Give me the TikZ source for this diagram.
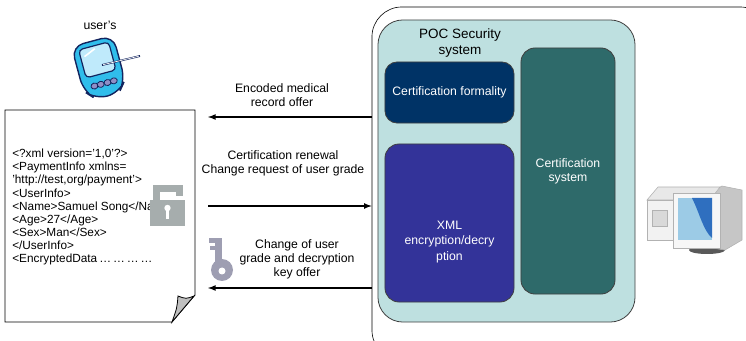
\documentclass[tikz,border=0pt]{standalone}
\usepackage{fontspec}
\setmainfont{Liberation Sans}
\usepackage{xcolor}
\usepackage{tikz}
\usetikzlibrary{shapes,arrows,calc,positioning}

\definecolor{pocCyan}{HTML}{BEE0E0}
\definecolor{formalityBlue}{HTML}{003366}
\definecolor{xmlBlue}{HTML}{333399}
\definecolor{systemTeal}{HTML}{2E6A6A}
\definecolor{lockGray}{HTML}{A6ADAD}
\definecolor{keyGray}{HTML}{9E9EB2}
\definecolor{pdaBlue}{HTML}{30BDEB}
\definecolor{pdaNavy}{HTML}{13245E}
\definecolor{screenLight}{HTML}{9CCBE6}
\definecolor{screenDark}{HTML}{2F6FBF}

\tikzstyle{tsText} = [
    text=black,
    font=\fontsize{8.7}{10}\selectfont
]
\tikzstyle{tsWraptext} = [
    tsText,
    text centered,
    align=center
]
\tikzstyle{tsWhiteText} = [
    tsWraptext,
    text=white
]
\tikzstyle{tsRoundedRectangle} = [
    rectangle,
    inner sep=0pt,
    draw=black!75,
    line width=0.2mm,
    rounded corners=0.35cm
]
\tikzstyle{tsMessage} = [
    -latex,
    line width=0.3mm
]

\begin{document}
\begin{tikzpicture}[x=0.025cm, y=-0.025cm]

        \useasboundingbox (0,0) rectangle (746,341);
        \clip (0,0) rectangle (746,341);

        % Server side: outer frame and POC security system
        \node[tsRoundedRectangle, draw=black, line width=0.15mm,
        rounded corners=0.75cm,
        minimum width=9.95cm,
        minimum height=8.825cm] (server) at (571,183.5) {};

        \node[tsRoundedRectangle, fill=pocCyan,
        rounded corners=0.62cm,
        minimum width=6.425cm,
        minimum height=7.55cm] (poc) at (506.5,171) {};

        \node[tsWraptext, font=\fontsize{9.6}{12}\selectfont] (pocTitle) at (460,43) {POC Security\\system};

        \node[tsRoundedRectangle, tsWhiteText, fill=formalityBlue,
        rounded corners=0.3cm,
        minimum width=3.225cm,
        minimum height=1.525cm] (formality) at (449.5,92.5) {Certification formality};

        \node[tsRoundedRectangle, fill=xmlBlue,
        minimum width=3.225cm,
        minimum height=3.95cm] (xmlBox) at (449.5,223) {};
        \node[tsWhiteText, font=\fontsize{8.7}{11}\selectfont] (xmlText) at ($(xmlBox.center)+(0,19)$) {XML\\encryption/decry\\ption};

        \node[tsRoundedRectangle, tsWhiteText, fill=systemTeal,
        minimum width=2.35cm,
        minimum height=6.15cm] (certSystem) at (568,171) {Certification\\system};

        % Messages between the document and the server
        \coordinate (msgOffer) at (208,117);
        \coordinate (msgRenewal) at (208,206);
        \coordinate (msgKey) at (208,288);

        \draw[tsMessage] (server.west |- msgOffer) -- (msgOffer);
        \draw[tsMessage] (msgRenewal) -- (server.west |- msgRenewal);
        \draw[tsMessage] (server.west |- msgKey) -- (msgKey);

        \node[tsWraptext] (offerText) at (282,95.5) {Encoded medical\\record offer};
        \node[tsWraptext] (renewalText) at (283,163.5) {Certification renewal\\Change request of user grade};
        \node[tsWraptext] (keyText) at (297,259) {Change of user\\grade and decryption\\key offer};

        % XML document with the page curl
        \draw[line width=0.2mm, fill=white] (5,110) -- (195,110) -- (195,295)
        -- (172,322) -- (5,322) -- cycle;
        \draw[line width=0.2mm, fill=black!25] (178,296) .. controls (177,308) .. (172,322)
        -- (194,296) .. controls (186,299) .. cycle;

        \node[tsText, anchor=north west, align=left, inner sep=0pt,
        font=\fontsize{8.4}{9.3}\selectfont] (xmlDoc) at (12,149)
        {<?xml version='1,0'?>\\
         <PaymentInfo xmlns=\\
         'http://test,org/payment'>\\
         <UserInfo>\\
         <Name>Samuel Song</Na\\
         <Age>27</Age>\\
         <Sex>Man</Sex>\\
         </UserInfo>\\
         <EncryptedData\,\dots\,\dots\,\dots\,\dots};

        % Open padlock
        \fill[lockGray] (150,200) rectangle (185,226);
        \draw[lockGray, line width=1.75mm] (156.5,200) -- (156.5,188.5) -- (179.5,188.5) -- (179.5,196);
        \fill[white] (167.5,208) circle (3.2);
        \fill[white] (166,208) rectangle (169,219);

        % Key
        \fill[keyGray] (215,238) rectangle (222,262);
        \fill[keyGray] (209,238) rectangle (216,243);
        \fill[keyGray] (210,246) rectangle (216,250);
        \fill[keyGray] (222,270) circle (11);
        \fill[white] (222,271) circle (3.5);

        % Handheld device of the user
        \node[tsText] (userLabel) at (100,25) {user's};
        \begin{scope}[shift={(100,68)}, rotate=15]
            \draw[pdaNavy, line width=0.35mm, fill=pdaBlue, rounded corners=0.3cm]
            (-22,-28) -- (21,-28) -- (21,18) -- (12,29) -- (-12,29) -- (-22,18) -- cycle;
            \draw[pdaNavy, line width=0.3mm, fill=cyan!25, rounded corners=0.1cm]
            (-16,-23) rectangle (15,6);
            \draw[white, line width=0.4mm] (-12,-15) -- (0,-20);
            \foreach \bx in {-10,-3.5,3.5,10}
                \draw[pdaNavy, line width=0.2mm, fill=xmlBlue!55] (\bx,16) ellipse (3.5 and 3);
        \end{scope}
        \draw[pdaNavy, line width=1.3pt] (102,65) -- (140,56);
        \draw[white, line width=0.5pt] (103,64.7) -- (139,56.2);

        % Desktop computer
        \fill[gray!70!black] (707,250) ellipse (18 and 4);
        \draw[gray!60, fill=gray!45] (712,192) -- (722,186) -- (742,190) -- (742,240) -- (725,250) -- (712,248) -- cycle;
        \draw[gray!60, fill=gray!18] (647,200) -- (658,187) -- (720,187) -- (710,200) -- cycle;
        \draw[gray!60, fill=gray!10] (647,200) rectangle (675,240);
        \draw[gray!60, fill=gray!30] (652,210) rectangle (667,226);
        \draw[gray!60, fill=gray!6] (673,193) rectangle (720,248);
        \fill[screenLight] (678,198) rectangle (712,240);
        \fill[screenDark] (692,198) .. controls (700,214) and (703,230) .. (712,238) -- (712,198) -- cycle;

\end{tikzpicture}
\end{document}
